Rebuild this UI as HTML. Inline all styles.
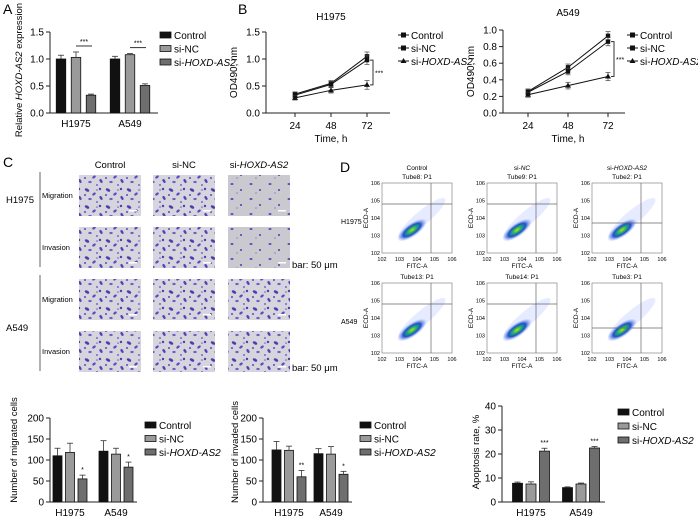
<!DOCTYPE html>
<html><head><meta charset="utf-8"><style>
body{margin:0;background:#fff;}
svg{display:block;font-family:"Liberation Sans",Arial,sans-serif;}
</style></head><body>
<svg id="fig" width="698" height="520" viewBox="0 0 698 520">
<defs>
<pattern id="cellsA" width="21" height="17" patternUnits="userSpaceOnUse">
<rect width="21" height="17" fill="#d6d4dc"/>
<ellipse cx="3" cy="3" rx="2.4" ry="1.4" fill="#4b3fb0" transform="rotate(30 3 3)"/>
<ellipse cx="10" cy="7" rx="2" ry="1.2" fill="#5a4cc0" transform="rotate(-40 10 7)"/>
<ellipse cx="6" cy="12" rx="1.7" ry="1.1" fill="#6b5ec8"/>
<circle cx="16" cy="2" r="1.2" fill="#4b3fb0"/>
<ellipse cx="17" cy="11" rx="2.2" ry="1.3" fill="#5246b8" transform="rotate(60 17 11)"/>
<circle cx="13" cy="15" r="1" fill="#7468cc"/>
<circle cx="1" cy="8" r="1" fill="#5a4cc0"/>
<ellipse cx="13" cy="3" rx="1.2" ry="0.8" fill="#8a80d6"/>
</pattern>
<pattern id="cellsB" width="19" height="15" patternUnits="userSpaceOnUse">
<rect width="19" height="15" fill="#c9c9cf"/>
<ellipse cx="4" cy="4" rx="1.5" ry="1" fill="#5a4cc0"/><circle cx="13" cy="10" r="1" fill="#4b3fb0"/><circle cx="9" cy="13" r="0.6" fill="#6b5ec8"/>
</pattern>
<radialGradient id="blob"><stop offset="0" stop-color="#c8e000"/><stop offset="0.3" stop-color="#20b070"/><stop offset="0.6" stop-color="#1e50c8"/><stop offset="1" stop-color="#8aa0ff" stop-opacity="0.1"/></radialGradient>
</defs>
<g id="root"></g>
</svg>
<script>
// ---------- Data ----------
const groups = ["H1975","A549"];
const seriesNames = ["Control","si-NC","si-HOXD-AS2"];
const aValues = [[1.0,1.03,0.33],[1.0,1.08,0.51]];
const aErrors = [[0.07,0.1,0.02],[0.05,0.02,0.03]];
const aTicks = [0,0.5,1.0,1.5];
const timePoints = [24,48,72];
const bH1975Control = [0.35,0.55,1.05];
const bH1975NC = [0.33,0.53,0.98];
const bH1975KD = [0.28,0.42,0.52];
const bH1975Err = [0.04,0.05,0.08];
const bH1975Ticks = [0,0.5,1.0,1.5];
const bA549Control = [0.26,0.55,0.93];
const bA549NC = [0.25,0.50,0.86];
const bA549KD = [0.22,0.33,0.44];
const bA549Err = [0.03,0.04,0.05];
const bA549Ticks = [0,0.2,0.4,0.6,0.8,1.0];
const migValues = [[110,118,55],[121,114,83]];
const migErrors = [[18,22,9],[25,14,12]];
const migStars = [["","","*"],["","","*"]];
const invValues = [[124,123,60],[115,114,66]];
const invErrors = [[20,10,15],[12,18,7]];
const invStars = [["","","**"],["","","*"]];
const cellTicks = [0,50,100,150,200];
const apoValues = [[7.8,7.5,21.2],[6.0,7.5,22.5]];
const apoErrors = [[0.5,0.9,1.2],[0.3,0.4,0.6]];
const apoStars = [["","","***"],["","","***"]];
const apoTicks = [0,10,20,30,40];

const NS="http://www.w3.org/2000/svg";
const root=document.getElementById('root');
function mk(tag,attrs,parent,text){const e=document.createElementNS(NS,tag);for(const k in attrs)e.setAttribute(k,attrs[k]);if(text!==undefined)e.textContent=text;(parent||root).appendChild(e);return e;}
const fills=["#111","#9a9a9a","#6e6e6e"];
const FS=10;

function panelLabel(t,x,y){const e=mk('text',{x:x,y:y,'font-size':14},root,t);

}

function legend(x,y,dy,type){
  const g=mk('g',{});
  
  
  seriesNames.forEach((n,i)=>{
    const yy=y+i*dy;
    if(type==='bar'){mk('rect',{x:x,y:yy-7,width:11,height:6,fill:fills[i],stroke:'#111','stroke-width':0.8},g);}
    else{mk('line',{x1:x,y1:yy-4,x2:x+11,y2:yy-4,stroke:'#111'},g);
      if(i<2)mk('rect',{x:x+3,y:yy-6.5,width:5,height:5,fill:'#111'},g);else mk('path',{d:`M${x+5.5} ${yy-7}L${x+8.5} ${yy-2}L${x+2.5} ${yy-2}Z`,fill:'#111'},g);}
    const t=mk('text',{x:x+(type==='bar'?14:13),y:yy,'font-size':FS},g);
    if(i===2){mk('tspan',{},t,'si-');mk('tspan',{'font-style':'italic'},t,'HOXD-AS2');}else t.textContent=n;
    
    
  });
}

function barChart(o){
  const g=mk('g',{});
  
  
  const ys=v=>o.y0-(v-o.ticks[0])/(o.ticks[o.ticks.length-1]-o.ticks[0])*(o.y0-o.y1);
  mk('line',{x1:o.ax,y1:o.y1,x2:o.ax,y2:o.y0,stroke:'#222'},g);
  mk('line',{x1:o.ax,y1:o.y0,x2:o.xend,y2:o.y0,stroke:'#222'},g);
  o.ticks.forEach(t=>{const y=ys(t);mk('line',{x1:o.ax-4,y1:y,x2:o.ax,y2:y,stroke:'#222'},g);
    const tl=mk('text',{x:o.ax-6,y:y+3.5,'font-size':FS,'text-anchor':'end'},g,o.fmt?o.fmt(t):t);
    
    });
  o.values.forEach((grp,gi)=>{
    const lx=o.gx[gi];
    const gl=mk('text',{x:lx,y:o.y0+14,'font-size':FS,'text-anchor':'middle'},g,groups[gi]);
    
    
    grp.forEach((v,si)=>{
      const cx=lx+(si-1)*o.step, x=cx-o.bw/2, y=ys(v);
      const r=mk('rect',{x:x,y:y,width:o.bw,height:o.y0-y,fill:fills[si],stroke:'#111','stroke-width':0.8},g);
      
      
      const ye=ys(v+o.errors[gi][si]);
      mk('line',{x1:cx,y1:y,x2:cx,y2:ye,stroke:'#333','stroke-width':0.8},g);
      mk('line',{x1:cx-3,y1:ye,x2:cx+3,y2:ye,stroke:'#333','stroke-width':0.8},g);
      if(o.stars&&o.stars[gi][si])mk('text',{x:cx,y:ye-3,'font-size':7,'text-anchor':'middle'},g,o.stars[gi][si]);
    });
  });
  const yt=mk('text',{transform:`translate(${o.ylx},${o.ylc||(o.y0+o.y1)/2}) rotate(-90)`,'font-size':o.ylfs||FS,'text-anchor':'middle'},g);
  o.ylabel(yt);
  
  
  return ys;
}

// Panel A
panelLabel('A',3,14);
const ysA=barChart({name:'panel-a-chart',ax:50,y0:113,y1:32,xend:158,ticks:aTicks,fmt:t=>t.toFixed(1),values:aValues,errors:aErrors,gx:[76,130],step:15,bw:9.5,ylx:22,ylc:70,ylfs:9.5,
 ylabel:t=>{mk('tspan',{},t,'Relative ');mk('tspan',{'font-style':'italic'},t,'HOXD-AS2');mk('tspan',{},t,' expression');}});
[[0,76],[1,130]].forEach(([gi,x])=>{const y=ysA(aValues[gi][1]+aErrors[gi][1])-6;
 mk('line',{x1:x,y1:y,x2:x+16,y2:y,stroke:'#333'});mk('text',{x:x+8,y:y-2,'font-size':7,'text-anchor':'middle'},root,'***');});
legend(160,39,13.5,'bar');

// Panel B line charts
function lineChart(o){
  const g=mk('g',{});
  
  
  const ys=v=>o.y0-(v-o.ticks[0])/(o.ticks[o.ticks.length-1]-o.ticks[0])*(o.y0-o.y1);
  const xs=t=>o.x24+(t-timePoints[0])/(timePoints[2]-timePoints[0])*(o.x72-o.x24);
  mk('line',{x1:o.ax,y1:o.y1,x2:o.ax,y2:o.y0,stroke:'#222'},g);
  mk('line',{x1:o.ax,y1:o.y0,x2:o.xend,y2:o.y0,stroke:'#222'},g);
  o.ticks.forEach(t=>{const y=ys(t);mk('line',{x1:o.ax-4,y1:y,x2:o.ax,y2:y,stroke:'#222'},g);
    const tl=mk('text',{x:o.ax-6,y:y+3.5,'font-size':FS,'text-anchor':'end'},g,t.toFixed(1));
    
    });
  timePoints.forEach(t=>{const x=xs(t);mk('line',{x1:x,y1:o.y0,x2:x,y2:o.y0+4,stroke:'#222'},g);
    const tl=mk('text',{x:x,y:o.y0+16,'font-size':FS,'text-anchor':'middle'},g,t);
    
    });
  o.series.forEach((s,si)=>{
    const pts=s.map((v,i)=>xs(timePoints[i])+','+ys(v)).join(' ');
    const pl=mk('polyline',{points:pts,fill:'none',stroke:'#111','stroke-width':1},g);
    
    
    s.forEach((v,i)=>{const x=xs(timePoints[i]),y=ys(v),e=o.err[i];
      mk('line',{x1:x,y1:ys(v-e),x2:x,y2:ys(v+e),stroke:'#444','stroke-width':0.7},g);
      mk('line',{x1:x-2.5,y1:ys(v+e),x2:x+2.5,y2:ys(v+e),stroke:'#444','stroke-width':0.7},g);
      mk('line',{x1:x-2.5,y1:ys(v-e),x2:x+2.5,y2:ys(v-e),stroke:'#444','stroke-width':0.7},g);
      if(si<2)mk('rect',{x:x-2.2,y:y-2.2,width:4.4,height:4.4,fill:'#111'},g);
      else mk('path',{d:`M${x} ${y-3}L${x+3} ${y+2}L${x-3} ${y+2}Z`,fill:'#111'},g);
    });
  });
  const bx=xs(72)+6, yA=ys(o.series[1][2]), yB=ys(o.series[2][2]);
  mk('path',{d:`M${bx-3} ${yA}H${bx}V${yB}H${bx-3}`,fill:'none',stroke:'#333'},g);
  mk('text',{x:bx+2,y:(yA+yB)/2+3,'font-size':7},g,'***');
  const tt=mk('text',{x:(o.x24+o.x72)/2,y:o.titleY,'font-size':FS,'text-anchor':'middle'},g,o.title);
  
  
  const xt=mk('text',{x:(o.x24+o.x72)/2,y:o.y0+29,'font-size':FS,'text-anchor':'middle'},g,'Time, h');
  
  
  const yt=mk('text',{transform:`translate(${o.ax-29},${(o.y0+o.y1)/2}) rotate(-90)`,'font-size':FS,'text-anchor':'middle'},g,'OD490, nm');
  
  
}
panelLabel('B',238,14);
lineChart({name:'panel-b-h1975-chart',title:'H1975',titleY:20,ax:266,y0:113,y1:32,xend:390,x24:295,x72:367,ticks:bH1975Ticks,series:[bH1975Control,bH1975NC,bH1975KD],err:bH1975Err});
legend(398,39,13,'line');
lineChart({name:'panel-b-a549-chart',title:'A549',titleY:16,ax:503,y0:113,y1:30,xend:625,x24:528,x72:608,ticks:bA549Ticks,series:[bA549Control,bA549NC,bA549KD],err:bA549Err});
legend(627,39,13,'line');

// Panel C
panelLabel('C',3,167);
const cCols=[79,153,228], cRows=[175,227,279,331];
['Control','si-NC','si-HOXD-AS2'].forEach((t,i)=>{const e=mk('text',{x:cCols[i]+31,y:168,'font-size':9.5,'text-anchor':'middle'});
 if(i===2){mk('tspan',{},e,'si-');mk('tspan',{'font-style':'italic'},e,'HOXD-AS2');}else e.textContent=t;
 
 });
cRows.forEach((ry,ri)=>{
  const lab=mk('text',{x:42,y:ry+23,'font-size':7.5},root,ri%2===0?'Migration':'Invasion');
  
  
  cCols.forEach((cx,ci)=>{
    const r=mk('rect',{x:cx,y:ry,width:62,height:41,fill:(ci===2&&ri<2)?'url(#cellsB)':'url(#cellsA)'});
    
    
    mk('rect',{x:cx+50,y:ry+35,width:8,height:1.5,fill:'#fff'});
  });
});
mk('line',{x1:40,y1:172,x2:40,y2:267,stroke:'#999','stroke-width':1.5});
mk('line',{x1:40,y1:275,x2:40,y2:371,stroke:'#999','stroke-width':1.5});
[['H1975',203],['A549',331]].forEach(([t,y])=>{const e=mk('text',{x:6,y:y,'font-size':9.5},root,t);
 
 });
[268,371].forEach(y=>{const e=mk('text',{x:292,y:y,'font-size':9.5},root,'bar: 50 μm');
 
 });

// Panel D
panelLabel('D',340,172);
const dCols=[382,487,592], dRows=[183,283];
const dTitles=[['Tube8: P1','Tube9: P1','Tube2: P1'],['Tube13: P1','Tube14: P1','Tube3: P1']];
dRows.forEach((ry,ri)=>dCols.forEach((cx,ci)=>{
  const g=mk('g',{});
  
  
  mk('rect',{x:cx,y:ry,width:70,height:70,fill:'#fff',stroke:'#888','stroke-width':0.7},g);
  mk('ellipse',{cx:cx+40,cy:ry+35,rx:30,ry:7,fill:'#9ab0ff',opacity:0.25,transform:`rotate(-40 ${cx+40} ${ry+35})`},g);
  mk('ellipse',{cx:cx+30,cy:ry+47,rx:17,ry:6.5,fill:'url(#blob)',transform:`rotate(-35 ${cx+30} ${ry+47})`},g);
  const qy=ci===2?ry+(ri?45:40):ry+21;
  mk('line',{x1:cx,y1:qy,x2:cx+70,y2:qy,stroke:'#666','stroke-width':0.7},g);
  mk('line',{x1:cx+49,y1:ry,x2:cx+49,y2:ry+70,stroke:'#666','stroke-width':0.7},g);
  ['2','3','4','5','6'].forEach((p,k)=>{
    mk('text',{x:cx-2,y:ry+70-k*17.5+2,'font-size':5.5,'text-anchor':'end'},g,'10'+p);
    mk('text',{x:cx+k*17.5,y:ry+78,'font-size':5.5,'text-anchor':'middle'},g,'10'+p);
  });
  mk('text',{transform:`translate(${cx-14},${ry+35}) rotate(-90)`,'font-size':6.5,'text-anchor':'middle'},g,'ECD-A');
  mk('text',{x:cx+35,y:ry+85,'font-size':6.5,'text-anchor':'middle'},g,'FITC-A');
  mk('text',{x:cx+35,y:ry-4,'font-size':6.5,'text-anchor':'middle'},g,dTitles[ri][ci]);
  if(ri===0){const t=mk('text',{x:cx+35,y:ry-13,'font-size':6.5,'text-anchor':'middle'},g);
    if(ci===0)t.textContent='Control';else if(ci===1){mk('tspan',{},t,'si-');mk('tspan',{'font-style':'italic'},t,'NC');}
    else{mk('tspan',{},t,'si-');mk('tspan',{'font-style':'italic'},t,'HOXD-AS2');}}
}));
[['H1975',224],['A549',324]].forEach(([t,y])=>{const e=mk('text',{x:341,y:y,'font-size':7},root,t);
 
 });

// Bottom bar charts
barChart({name:'migrated-cells-chart',ax:50,y0:502,y1:418,xend:137,ticks:cellTicks,values:migValues,errors:migErrors,stars:migStars,gx:[70,116],step:12.5,bw:9,ylx:17,ylc:450,ylfs:9.5,
 ylabel:t=>{t.textContent='Number of migrated cells';}});
legend(145,429,13.5,'bar');
barChart({name:'invaded-cells-chart',ax:263,y0:502,y1:418,xend:352,ticks:cellTicks,values:invValues,errors:invErrors,stars:invStars,gx:[289,331],step:12.5,bw:9,ylx:238,ylc:452,ylfs:9.5,
 ylabel:t=>{t.textContent='Number of invaded cells';}});
legend(360,429,13.5,'bar');
barChart({name:'apoptosis-chart',ax:502,y0:502,y1:406,xend:605,ticks:apoTicks,values:apoValues,errors:apoErrors,stars:apoStars,gx:[531,581],step:13.5,bw:10,ylx:479,ylc:452,ylfs:9.5,
 ylabel:t=>{t.textContent='Apoptosis rate, %';}});
legend(618,416,14,'bar');
</script>
</body></html>
